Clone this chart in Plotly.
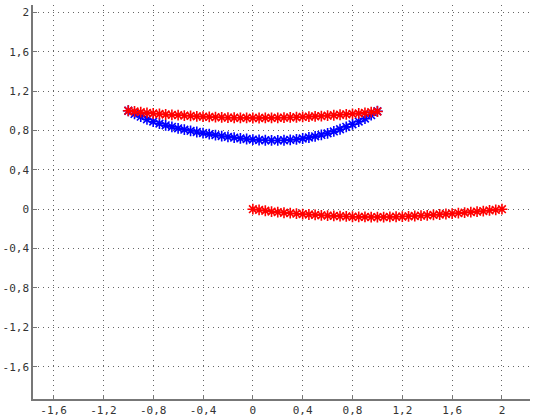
import plotly.graph_objects as go

# Blue curve (upper arc, lower branch)
blue_x = [-1.00, -0.95, -0.90, -0.85, -0.80, -0.75, -0.70, -0.65, -0.60, -0.55,
          -0.50, -0.45, -0.40, -0.35, -0.30, -0.25, -0.20, -0.15, -0.10, -0.05,
          0.00, 0.05, 0.10, 0.15, 0.20, 0.25, 0.30, 0.35, 0.40, 0.45,
          0.50, 0.55, 0.60, 0.65, 0.70, 0.75, 0.80, 0.85, 0.90, 0.95, 1.00]
blue_y = [1.000, 0.968, 0.940, 0.913, 0.890, 0.870, 0.852, 0.836, 0.821, 0.808,
          0.796, 0.784, 0.773, 0.762, 0.752, 0.743, 0.734, 0.726, 0.719, 0.713,
          0.707, 0.703, 0.700, 0.698, 0.698, 0.700, 0.704, 0.710, 0.718, 0.728,
          0.740, 0.754, 0.771, 0.790, 0.812, 0.836, 0.862, 0.890, 0.920, 0.955, 0.995]

# Red curve (upper)
red1_x = [-1.00, -0.95, -0.90, -0.85, -0.80, -0.75, -0.70, -0.65, -0.60, -0.55,
          -0.50, -0.45, -0.40, -0.35, -0.30, -0.25, -0.20, -0.15, -0.10, -0.05,
          0.00, 0.05, 0.10, 0.15, 0.20, 0.25, 0.30, 0.35, 0.40, 0.45,
          0.50, 0.55, 0.60, 0.65, 0.70, 0.75, 0.80, 0.85, 0.90, 0.95, 1.00]
red1_y = [1.000, 0.992, 0.985, 0.978, 0.972, 0.967, 0.962, 0.958, 0.955, 0.951,
          0.947, 0.943, 0.940, 0.937, 0.935, 0.932, 0.930, 0.929, 0.928, 0.927,
          0.926, 0.926, 0.927, 0.927, 0.928, 0.930, 0.932, 0.934, 0.937, 0.940,
          0.943, 0.946, 0.950, 0.954, 0.959, 0.963, 0.968, 0.973, 0.979, 0.985, 0.992]

# Red curve (lower)
red2_x = [0.00, 0.05, 0.10, 0.15, 0.20, 0.25, 0.30, 0.35, 0.40, 0.45,
          0.50, 0.55, 0.60, 0.65, 0.70, 0.75, 0.80, 0.85, 0.90, 0.95,
          1.00, 1.05, 1.10, 1.15, 1.20, 1.25, 1.30, 1.35, 1.40, 1.45,
          1.50, 1.55, 1.60, 1.65, 1.70, 1.75, 1.80, 1.85, 1.90, 1.95, 2.00]
red2_y = [0.000, -0.008, -0.016, -0.024, -0.030, -0.036, -0.041, -0.046, -0.050, -0.054,
          -0.058, -0.062, -0.065, -0.068, -0.071, -0.074, -0.077, -0.078, -0.079, -0.080,
          -0.080, -0.080, -0.079, -0.077, -0.075, -0.072, -0.069, -0.066, -0.062, -0.058,
          -0.054, -0.049, -0.045, -0.040, -0.035, -0.030, -0.025, -0.019, -0.013, -0.007, 0.000]

x_ticks = [-1.6, -1.2, -0.8, -0.4, 0, 0.4, 0.8, 1.2, 1.6, 2]
x_labels = ["-1,6", "-1,2", "-0,8", "-0,4", "0", "0,4", "0,8", "1,2", "1,6", "2"]
y_ticks = [-1.6, -1.2, -0.8, -0.4, 0, 0.4, 0.8, 1.2, 1.6, 2]
y_labels = ["-1,6", "-1,2", "-0,8", "-0,4", "0", "0,4", "0,8", "1,2", "1,6", "2"]


def star_marker(color):
    return dict(symbol="asterisk-open", size=9, color=color,
                line=dict(width=1.6, color=color))


fig = go.Figure()
fig.add_trace(go.Scatter(x=blue_x, y=blue_y, mode="markers", marker=star_marker("#0000ff")))
fig.add_trace(go.Scatter(x=red1_x, y=red1_y, mode="markers", marker=star_marker("#ff0000")))
fig.add_trace(go.Scatter(x=red2_x, y=red2_y, mode="markers", marker=star_marker("#ff0000")))

axis_common = dict(
    showgrid=True, gridcolor="#666666", gridwidth=1, griddash="1px,4px",
    zeroline=False, showline=True, linecolor="#777777", linewidth=1.5,
    ticks="inside", ticklen=4, tickcolor="#777777", tickwidth=1,
    tickfont=dict(family="DejaVu Sans Mono", size=11, color="#333333"),
    mirror=False, automargin=False,
)

fig.update_layout(
    width=534, height=420,
    margin=dict(l=33, r=4, t=5, b=21),
    paper_bgcolor="white", plot_bgcolor="white",
    showlegend=False,
    xaxis=dict(range=[-1.765, 2.225], tickvals=x_ticks, ticktext=x_labels, **axis_common),
    yaxis=dict(range=[-1.928, 2.074], tickvals=y_ticks, ticktext=y_labels, **axis_common),
)

fig.write_html("out.html")
